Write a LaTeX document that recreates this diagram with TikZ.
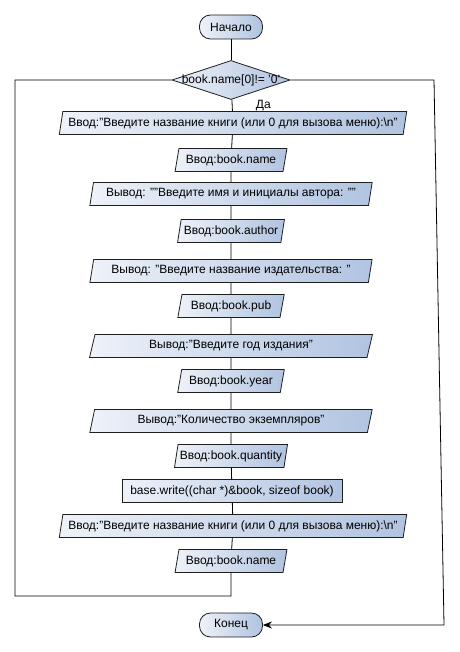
\documentclass[tikz,border=0pt]{standalone}
\usepackage{fontspec}
\setmainfont{Liberation Sans}
\usepackage{tikz}
\usetikzlibrary{shapes.geometric}
\usetikzlibrary{arrows.meta}

\definecolor{boxlight}{RGB}{238,242,249}
\definecolor{boxdark}{RGB}{176,195,224}
\definecolor{boxline}{RGB}{30,30,30}

\begin{document}
\begin{tikzpicture}[x=1pt,y=-1pt,font=\fontsize{12}{14}\selectfont,line width=0.8pt,
		io/.style={trapezium,trapezium left angle=73,trapezium right angle=107,trapezium stretches=true,draw=boxline,left color=boxlight,right color=boxdark,minimum height=23pt,inner xsep=0pt,inner ysep=0pt},
		proc/.style={rectangle,draw=boxline,left color=boxlight,right color=boxdark,minimum height=23pt,minimum width=220pt,inner sep=0pt},
		term/.style={rectangle,rounded corners=11pt,draw=boxline,left color=boxlight,right color=boxdark,minimum height=24pt,minimum width=63pt,inner sep=0pt},
		cond/.style={diamond,draw=boxline,left color=boxlight,right color=boxdark,minimum width=118pt,minimum height=39pt,inner sep=0pt}]
		\useasboundingbox (0,0) rectangle (459,652);
		\node[term] (start) at (231,27) {Начало};
		\node[cond,label=center:{book.name[0]!= '0'}] (loop) at (231,80) {};
		\node[io,minimum width=349pt] (askname) at (233,123) {Ввод:"Введите название книги (или 0 для вызова меню):\textbackslash n"};
		\node[io,minimum width=113pt] (name) at (231,160) {Ввод:book.name};
		\node[io,minimum width=283pt] (askauthor) at (231,194) {Вывод: ""Введите имя и инициалы автора: ""};
		\node[io,minimum width=107pt] (author) at (231,231) {Ввод:book.author};
		\node[io,minimum width=283pt] (askpub) at (231,271) {Вывод: "Введите название издательства: "};
		\node[io,minimum width=107pt] (pub) at (231,306) {Ввод:book.pub};
		\node[io,minimum width=283pt] (askyear) at (231,346) {Вывод:"Введите год издания"};
		\node[io,minimum width=107pt] (year) at (231,381) {Ввод:book.year};
		\node[io,minimum width=283pt] (askqty) at (231,421) {Вывод:"Количество экземпляров"};
		\node[io,minimum width=113pt] (qty) at (231,456) {Ввод:book.quantity};
		\node[proc] (write) at (232,491) {base.write((char *)\&book, sizeof book)};
		\node[io,minimum width=349pt] (askname2) at (233,526) {Ввод:"Введите название книги (или 0 для вызова меню):\textbackslash n"};
		\node[io,minimum width=113pt] (name2) at (231,561) {Ввод:book.name};
		\node[term] (stop) at (231,625) {Конец};
		\coordinate (backlow) at (231,596);
		\coordinate (backleft) at (15,596);
		\coordinate (backup) at (15,80);
		\coordinate (exittop) at (434,80);
		\coordinate (exitlow) at (444,625);
		\draw (start) -- (loop);
		\draw (loop) -- node[midway,right=20pt]{Да} (askname);
		\draw (askname) -- (name);
		\draw (name) -- (askauthor);
		\draw (askauthor) -- (author);
		\draw (author) -- (askpub);
		\draw (askpub) -- (pub);
		\draw (pub) -- (askyear);
		\draw (askyear) -- (year);
		\draw (year) -- (askqty);
		\draw (askqty) -- (qty);
		\draw (qty) -- (write);
		\draw (write) -- (askname2);
		\draw (askname2) -- (name2);
		\draw (name2.south) -- (backlow) -- (backleft) -- (backup) -- (loop.west); %back to the test%
		\draw[-{Stealth[length=9pt,width=7pt]}] (loop.east) -- (exittop) -- (exitlow) -- (stop.east); %exit%
	\end{tikzpicture}
\end{document}
